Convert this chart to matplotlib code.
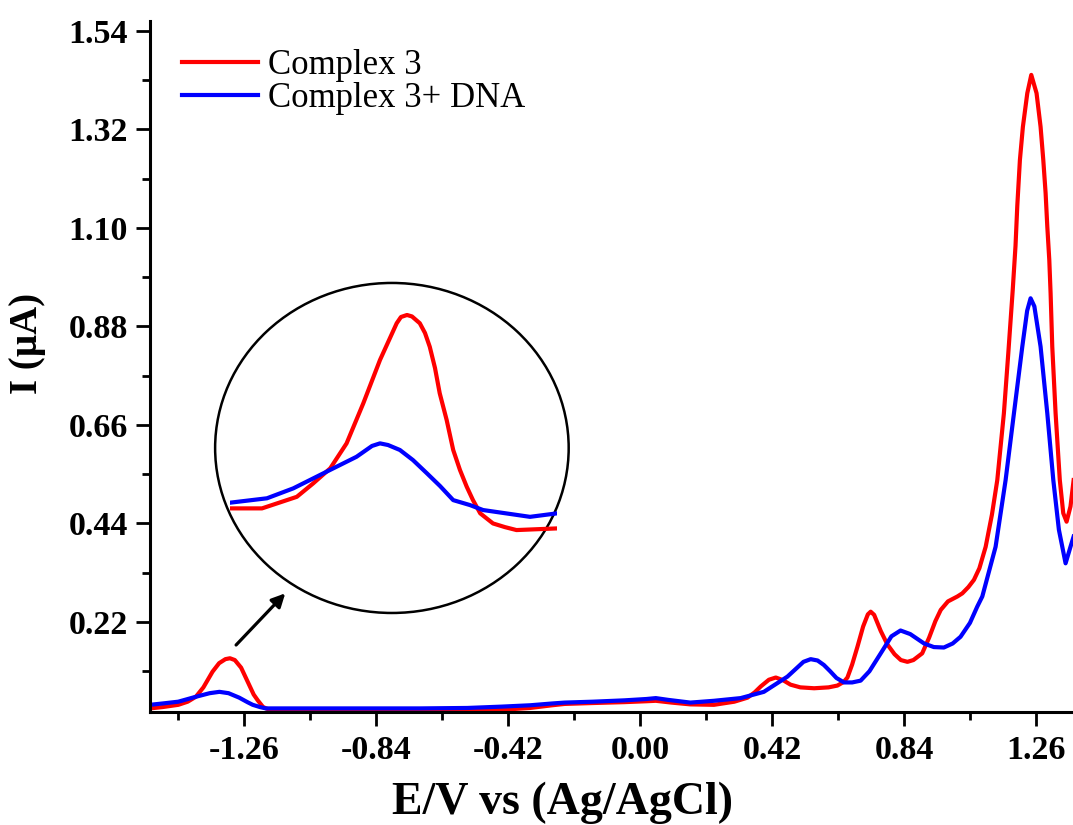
import matplotlib
matplotlib.use("Agg")
import matplotlib.pyplot as plt
from matplotlib.patches import Ellipse
from matplotlib.ticker import MultipleLocator, FixedLocator

# ---------------- data ----------------
E_red = [-1.56, -1.52, -1.47, -1.44, -1.414, -1.39, -1.361, -1.34, -1.32, -1.3055,
         -1.29, -1.27, -1.25, -1.23, -1.217, -1.20, -1.18, -1.15, -1.10, -0.90,
         -0.70, -0.55, -0.44, -0.35, -0.28, -0.24, -0.15, -0.05, 0.02, 0.05,
         0.10, 0.16, 0.235, 0.30, 0.342, 0.365, 0.384, 0.41, 0.432, 0.455,
         0.479, 0.51, 0.554, 0.60, 0.628, 0.648, 0.66, 0.675, 0.692, 0.71,
         0.725, 0.734, 0.745, 0.766, 0.787, 0.81, 0.83, 0.851, 0.87, 0.898,
         0.92, 0.94, 0.957, 0.98, 1.01, 1.0257, 1.045, 1.0626, 1.08, 1.10,
         1.12, 1.137, 1.158, 1.172, 1.186, 1.195, 1.2007, 1.209, 1.2185, 1.2325,
         1.2452, 1.262, 1.2748, 1.2834, 1.2908, 1.2962, 1.3025, 1.3067, 1.312, 1.3226,
         1.336, 1.347, 1.3576, 1.370, 1.38]
I_red = [0.027, 0.030, 0.035, 0.042, 0.053, 0.074, 0.109, 0.128, 0.137, 0.139,
         0.135, 0.118, 0.088, 0.058, 0.045, 0.030, 0.024, 0.022, 0.021, 0.021,
         0.021, 0.022, 0.024, 0.028, 0.034, 0.037, 0.039, 0.041, 0.043, 0.044,
         0.040, 0.036, 0.035, 0.042, 0.051, 0.063, 0.076, 0.091, 0.096, 0.090,
         0.080, 0.074, 0.072, 0.074, 0.078, 0.086, 0.096, 0.125, 0.165, 0.210,
         0.237, 0.243, 0.236, 0.200, 0.170, 0.148, 0.135, 0.131, 0.135, 0.150,
         0.185, 0.222, 0.247, 0.266, 0.277, 0.284, 0.298, 0.314, 0.340, 0.388,
         0.460, 0.537, 0.686, 0.820, 0.960, 1.060, 1.150, 1.252, 1.326, 1.401,
         1.442, 1.401, 1.326, 1.252, 1.178, 1.103, 1.029, 0.954, 0.835, 0.686,
         0.537, 0.463, 0.444, 0.478, 0.537]

E_blue = [-1.56, -1.52, -1.47, -1.414, -1.37, -1.339, -1.31, -1.276, -1.25, -1.233,
          -1.21, -1.191, -1.10, -0.90, -0.70, -0.55, -0.44, -0.35, -0.28, -0.24,
          -0.15, -0.05, 0.02, 0.05, 0.09, 0.16, 0.235, 0.32, 0.394, 0.469,
          0.50, 0.52, 0.543, 0.565, 0.585, 0.605, 0.625, 0.649, 0.675, 0.702,
          0.73, 0.766, 0.80, 0.829, 0.86, 0.904, 0.935, 0.967, 0.995, 1.02,
          1.05, 1.073, 1.0893, 1.1316, 1.1635, 1.19, 1.2166, 1.232, 1.243, 1.255,
          1.2748, 1.2962, 1.3153, 1.3331, 1.3544, 1.370, 1.38]
I_blue = [0.035, 0.038, 0.042, 0.053, 0.061, 0.064, 0.061, 0.051, 0.041, 0.035,
          0.030, 0.027, 0.027, 0.027, 0.027, 0.028, 0.031, 0.034, 0.038, 0.040,
          0.042, 0.045, 0.048, 0.050, 0.046, 0.040, 0.044, 0.050, 0.064, 0.098,
          0.118, 0.131, 0.137, 0.134, 0.124, 0.110, 0.095, 0.085, 0.085, 0.089,
          0.110, 0.150, 0.188, 0.201, 0.193, 0.172, 0.164, 0.163, 0.172, 0.187,
          0.218, 0.254, 0.277, 0.388, 0.537, 0.686, 0.835, 0.915, 0.943, 0.925,
          0.835, 0.686, 0.537, 0.426, 0.351, 0.388, 0.411]

# magnified view (inset) of the peak near -1.3 V
E_inset_red = [-1.560, -1.515, -1.494, -1.466, -1.443, -1.419, -1.396, -1.3725, -1.349, -1.3255,
               -1.3195, -1.311, -1.304, -1.293, -1.2857, -1.279, -1.2716, -1.265, -1.2552, -1.246,
               -1.2365, -1.227, -1.2182, -1.208, -1.190, -1.1732, -1.157, -1.100]
I_inset_red = [0.0337, 0.0337, 0.0364, 0.0400, 0.0473, 0.0555, 0.0691, 0.0909, 0.1145, 0.1345,
               0.1379, 0.1390, 0.1382, 0.1345, 0.1292, 0.1217, 0.1101, 0.0964, 0.0818, 0.0655,
               0.0546, 0.0455, 0.0382, 0.0310, 0.0255, 0.0235, 0.0219, 0.0228]
E_inset_blue = [-1.560, -1.508, -1.471, -1.424, -1.382, -1.3602, -1.349, -1.3377, -1.321, -1.3026,
                -1.283, -1.2646, -1.246, -1.2224, -1.204, -1.138, -1.100]
I_inset_blue = [0.0368, 0.0392, 0.0446, 0.0537, 0.0618, 0.0677, 0.0691, 0.0682, 0.0655, 0.0600,
                0.0528, 0.0459, 0.0382, 0.0355, 0.0328, 0.0291, 0.0310]

labels = ["Complex 3", "Complex 3+ DNA"]
xticks = [-1.26, -0.84, -0.42, 0.00, 0.42, 0.84, 1.26]
yticks = [0.22, 0.44, 0.66, 0.88, 1.10, 1.32, 1.54]

# ---------------- figure ----------------
W, H = 1073, 825
fig = plt.figure(figsize=(W / 100, H / 100), dpi=100)
serif = ["Liberation Serif", "DejaVu Serif"]

def fx(px):
    return px / W

def fy(py):
    return 1 - py / H

ax = fig.add_axes([fx(150), fy(712.3), fx(1073) - fx(150), fy(20.7) - fy(712.3)])
ax.set_xlim(-1.56, 1.378)
ax.set_ylim(0.0183, 1.563)

ax.plot(E_red, I_red, color="#ff0000", lw=3.0, label=labels[0], solid_joinstyle="round")
ax.plot(E_blue, I_blue, color="#0000ff", lw=3.0, label=labels[1], solid_joinstyle="round")

for s in ["top", "right"]:
    ax.spines[s].set_visible(False)
for s in ["left", "bottom"]:
    ax.spines[s].set_linewidth(2.2)

ax.xaxis.set_major_locator(FixedLocator(xticks))
ax.yaxis.set_major_locator(FixedLocator(yticks))
ax.xaxis.set_minor_locator(MultipleLocator(0.21))
ax.yaxis.set_minor_locator(MultipleLocator(0.11))
ax.set_xticklabels([f"{v:.2f}" for v in xticks])
ax.set_yticklabels([f"{v:.2f}" for v in yticks])
ax.tick_params(which="major", direction="out", length=10, width=2.0, pad=6)
ax.tick_params(which="minor", direction="out", length=6, width=2.0)
for lab in ax.get_xticklabels() + ax.get_yticklabels():
    lab.set_fontfamily(serif)
    lab.set_fontweight("bold")
    lab.set_fontsize(24.5)

ax.set_xlabel("E/V vs (Ag/AgCl)", fontfamily=serif, fontweight="bold", fontsize=33)
ax.xaxis.set_label_coords((563 - 150) / 923, (712.3 - 782) / 691.6)
ax.set_ylabel("I (\u00b5A)", fontfamily=serif, fontweight="bold", fontsize=28)
ax.yaxis.set_label_coords((46 - 150) / 923, (712.3 - 343) / 691.6)

leg = ax.legend(loc="upper left", bbox_to_anchor=(fx(182), fy(49)), bbox_transform=fig.transFigure,
                frameon=False, prop={"family": serif, "size": 25},
                handlelength=2.2, handletextpad=0.28, labelspacing=0.0, borderpad=0, borderaxespad=0)
for h in leg.get_lines():
    h.set_linewidth(3.0)

# circle around the magnified view
ell = Ellipse((-0.790, 0.6087), width=1.1254, height=0.7371, fill=False,
              edgecolor="black", lw=1.8, clip_on=False, zorder=5)
ax.add_patch(ell)

# arrow from the peak to the circle
ax.annotate("", xy=(-1.1295, 0.284), xytext=(-1.286, 0.1686),
            arrowprops=dict(arrowstyle="-|>,head_length=0.8,head_width=0.4",
                            color="black", lw=2.3, shrinkA=0, shrinkB=0))

# inset axes (no frame)
ins = fig.add_axes([fx(230), fy(560), fx(557) - fx(230), fy(290) - fy(560)])
ins.set_xlim(-1.56, -1.10)
ins.set_ylim(0.0056, 0.1526)
ins.plot(E_inset_red, I_inset_red, color="#ff0000", lw=3.0, solid_joinstyle="round")
ins.plot(E_inset_blue, I_inset_blue, color="#0000ff", lw=3.0, solid_joinstyle="round")
ins.axis("off")

fig.savefig("out.png", dpi=100)
